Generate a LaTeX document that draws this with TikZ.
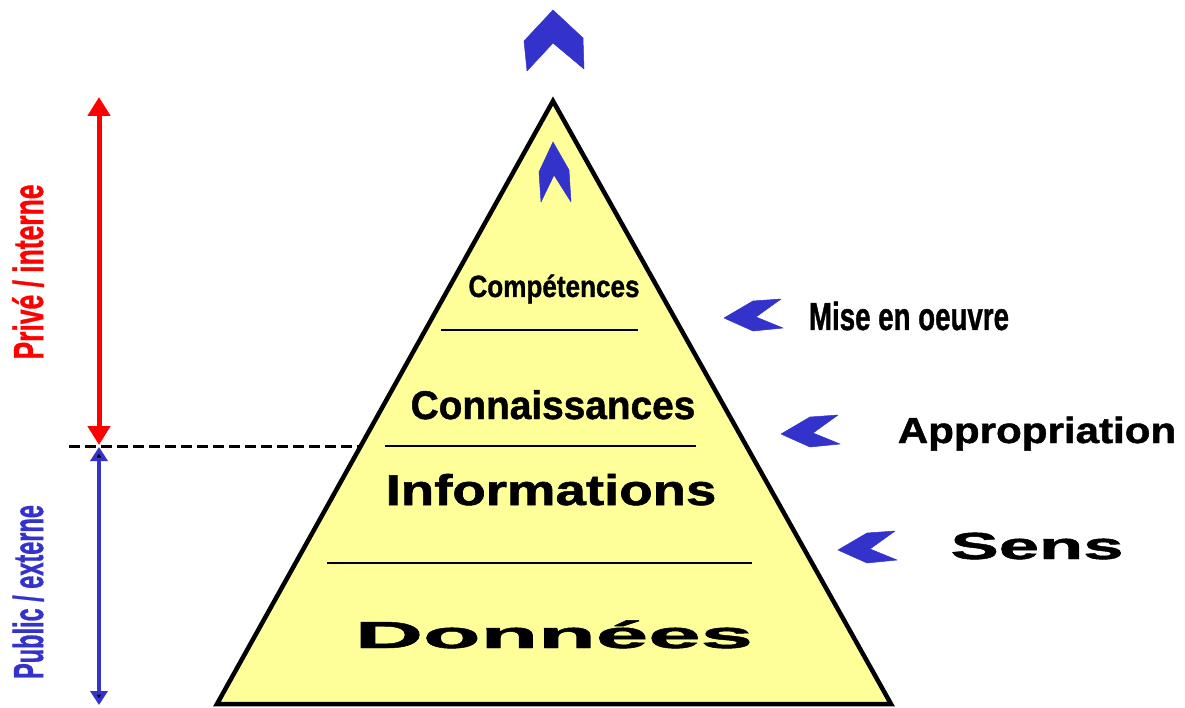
\documentclass[tikz,border=0pt]{standalone}
\usepackage{fontspec}
\setsansfont{Liberation Sans}[BoldFeatures={FakeBold=1.2}]
\usetikzlibrary{arrows.meta}
\definecolor{pyramid}{RGB}{255,255,153}
\definecolor{chevblue}{RGB}{51,51,204}
\tikzstyle{level}=[font=\sffamily\bfseries, inner sep=0pt, anchor=base]
\tikzstyle{side}=[font=\sffamily\bfseries, inner sep=0pt, anchor=base, rotate=90]
\tikzstyle{chevron}=[fill=chevblue, draw=chevblue, line width=0.5pt, line join=round]
\tikzstyle{divider}=[draw, line width=1.6pt]
\newcommand{\fs}[1]{\fontsize{#1}{#1}\selectfont}

\begin{document}
\begin{tikzpicture}[x=1pt, y=-1pt]

  \useasboundingbox (0,0) rectangle (1185,708);

  % pyramid
  \coordinate (apex) at (553,101);
  \coordinate (bl) at (217,704);
  \coordinate (br) at (891,704);
  \filldraw[fill=pyramid, line width=4.5pt] (apex) -- (bl) -- (br) -- cycle;

  \foreach \y/\xl/\xr/\name in {330/441/638/d1, 446/385/696/d2, 563/327/752/d3}
         \draw[divider] (\xl,\y) coordinate (\name l) -- (\xr,\y) coordinate (\name r);

  % levels
  \node[level] (comp) at (554,297) {\fs{30.7}\scalebox{0.85}[1]{Compétences}};
  \node[level] (conn) at (553,419) {\fs{40}\scalebox{0.97}[1]{Connaissances}};
  \node[level] (info) at (551,505) {\fs{43}\scalebox{1.27}[1]{Informations}};
  \node[level] (donn) at (554,648) {\fs{37.7}\scalebox{2.5}[1]{Données}};

  % right side
  \node[level] (mise) at (909,330) {\fs{39}\scalebox{0.71}[1]{Mise en oeuvre}};
  \node[level] (appr) at (1037,443) {\fs{36.3}\scalebox{1.16}[1]{Appropriation}};
  \node[level] (sens) at (1037,559) {\fs{37.7}\scalebox{1.92}[1]{Sens}};

  \foreach \x/\y in {724/318, 781/434, 838/550}
         \filldraw[chevron] (\x,\y) -- ++(29,-17) -- ++(28,-2) -- ++(-25,18) -- ++(27,11) -- ++(-30,3) -- cycle;

  % up chevrons
  \filldraw[chevron] (553,10) -- (583,38) -- (584,69) -- (553,43) -- (527,71) -- (524,41) -- cycle;
  \filldraw[chevron] (553,142) -- (569,170) -- (571,202) -- (554,175) -- (541,202) -- (539,172) -- cycle;

  % left side
  \coordinate (ptop) at (99,97);
  \coordinate (pmid) at (99,445);
  \coordinate (qtop) at (99,447);
  \coordinate (qbot) at (99,705);
  \coordinate (dl) at (69,446);
  \coordinate (dr) at (360,446);

  \draw[red, line width=5pt, {Triangle[length=19pt,width=22pt]}-{Triangle[length=19pt,width=22pt]}] (ptop) -- (pmid);
  \draw[chevblue, line width=3.5pt, {Triangle[length=14pt,width=17pt,fill=black]}-{Triangle[length=14pt,width=17pt,fill=black]}] (qtop) -- (qbot);
  \draw[line width=3pt, dash pattern=on 11pt off 5pt] (dl) -- (dr);

  \node[side, red] (prive) at (43,272) {\fs{42}\scalebox{0.63}[1]{Privé / interne}};
  \node[side, chevblue] (public) at (43,592) {\fs{42}\scalebox{0.56}[1]{Public / externe}};

\end{tikzpicture}
\end{document}
